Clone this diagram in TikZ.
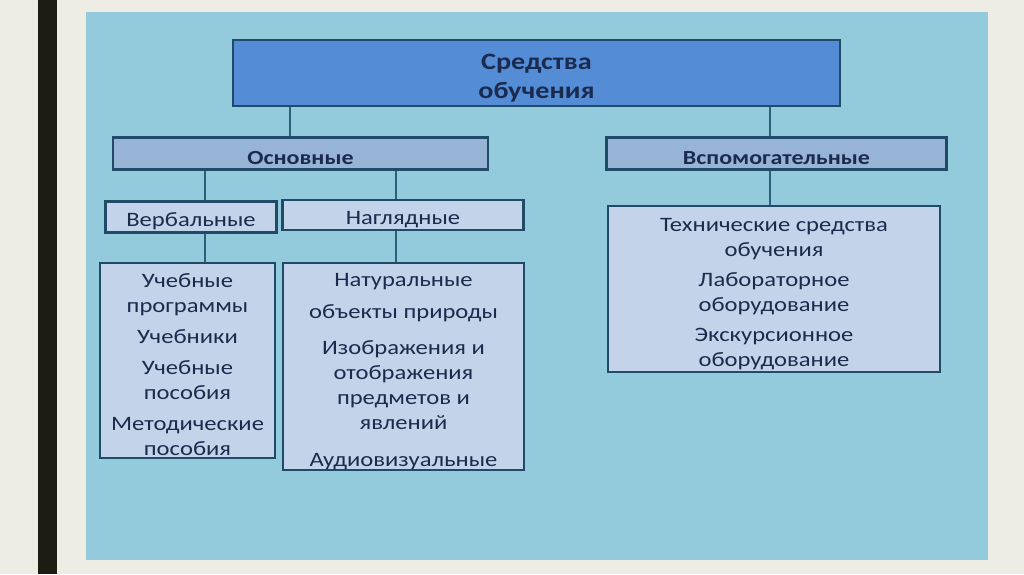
\documentclass[tikz,border=0pt]{standalone}
\usepackage{fontspec}
\setmainfont[FakeStretch=1.2]{Carlito}
\definecolor{pagebg}{HTML}{EEEDE5}
\definecolor{barcol}{HTML}{1C1C12}
\definecolor{panel}{HTML}{93CBDC}
\definecolor{edge}{HTML}{1F4A68}
\definecolor{linkcol}{HTML}{2D5E7C}
\definecolor{topfill}{HTML}{558CD6}
\definecolor{midfill}{HTML}{97B3D6}
\definecolor{lowfill}{HTML}{C3D4EA}
\definecolor{ink}{HTML}{1A2B4E}
\newcommand{\toprule}{\rule{0pt}{1.1em}}

\begin{document}
\begin{tikzpicture}[x=1pt,y=-1pt,
  box/.style={draw=edge,line width=2.6pt,inner sep=0pt,align=center,text=ink},
  topbox/.style={box,fill=topfill,font=\fontsize{23.5}{29}\selectfont\bfseries},
  midbox/.style={box,fill=midfill,font=\fontsize{20}{22}\selectfont\bfseries},
  lowbox/.style={box,fill=lowfill,font=\fontsize{20.5}{25}\selectfont},
  link/.style={draw=linkcol,line width=2.6pt}]
  \fill[pagebg] (0,0) rectangle (1024,574);
  \fill[barcol] (38,0) rectangle (57,574);
  \fill[panel] (86,12) rectangle (988,560);
  \node[topbox,minimum width=607,minimum height=66] (SO) at (536.5,73) {\toprule Средства\\обучения};
  \node[midbox,minimum width=375,minimum height=32] (OSN) at (300.5,153.5) {\toprule Основные};
  \node[midbox,minimum width=340,minimum height=32] (VSP) at (776.5,153.5) {\toprule Вспомогательные};
  \node[lowbox,minimum width=171,minimum height=31] (VERB) at (191,217) {\toprule Вербальные};
  \node[lowbox,minimum width=241,minimum height=30] (NAGL) at (403,215) {\toprule Наглядные};
  \node[lowbox,minimum width=175,minimum height=195] (VERBL) at (187.5,360.5)
    {\toprule Учебные\\программы\\[6pt]Учебники\\[6pt]Учебные\\пособия\\[6pt]Методические\\пособия};
  \node[lowbox,minimum width=241,minimum height=207] (NAGLL) at (403.5,366.5)
    {\toprule Натуральные\\[7pt]объекты природы\\[11pt]Изображения и\\отображения\\предметов и\\явлений\\[12pt]Аудиовизуальные};
  \node[lowbox,minimum width=332,minimum height=166] (VSPL) at (774,289)
    {\toprule Технические средства\\обучения\\[5pt]Лабораторное\\оборудование\\[5pt]Экскурсионное\\оборудование};
  \draw[link] (SO.south -| 290,0) -- (OSN.north -| 290,0);
  \draw[link] (SO.south -| 770,0) -- (VSP.north -| 770,0);
  \draw[link] (OSN.south -| 205,0) -- (VERB.north -| 205,0);
  \draw[link] (OSN.south -| 396,0) -- (NAGL.north -| 396,0);
  \draw[link] (VERB.south -| 205,0) -- (VERBL.north -| 205,0);
  \draw[link] (NAGL.south -| 396,0) -- (NAGLL.north -| 396,0);
  \draw[link] (VSP.south -| 770,0) -- (VSPL.north -| 770,0);
  \useasboundingbox (0,0) rectangle (1024,574);
\end{tikzpicture}
\end{document}
